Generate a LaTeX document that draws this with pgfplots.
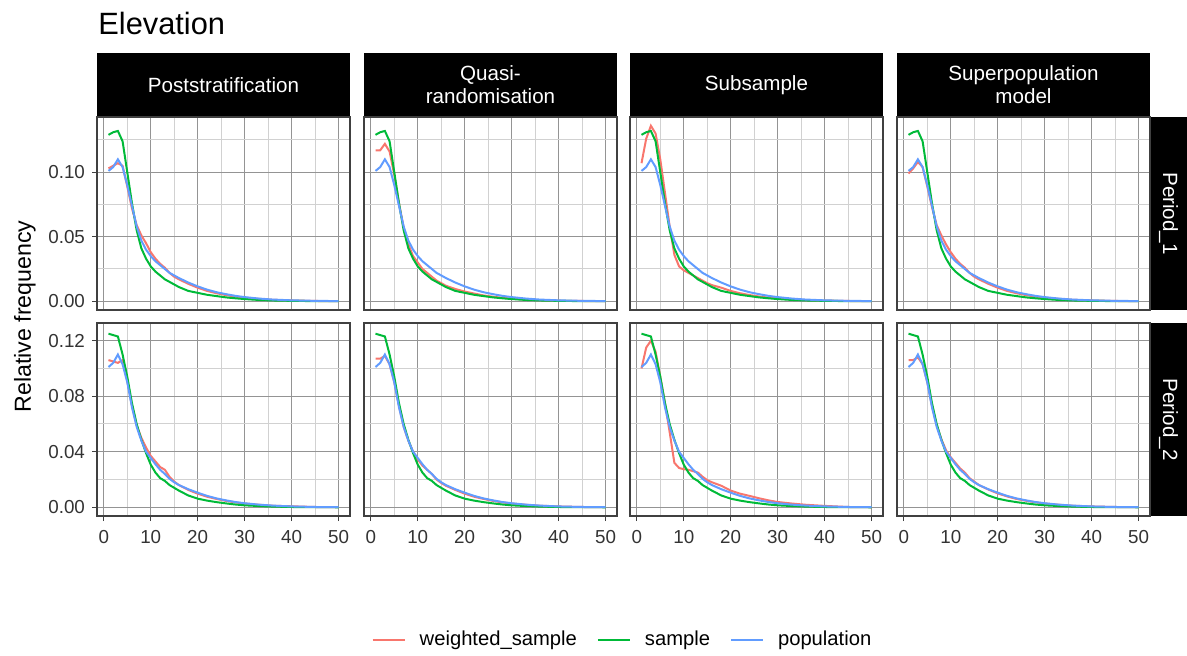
\documentclass[border=0pt]{standalone}
\usepackage{pgfplots}
\pgfplotsset{compat=1.18}
\usepackage{pgfplotstable}
\usepackage{fontspec}
\setmainfont{Liberation Sans}
\definecolor{cw}{HTML}{F8766D}
\definecolor{cs}{HTML}{00BA38}
\definecolor{cp}{HTML}{619CFF}

% Period_1: population, sample, and weighted_sample for each method
\pgfplotstableread{
x  pop     samp    ps      qr      ss      sp
1  0.101   0.129   0.103   0.117   0.107   0.099
2  0.104   0.131   0.105   0.117   0.126   0.103
3  0.110   0.132   0.107   0.122   0.136   0.108
4  0.104   0.124   0.105   0.116   0.130   0.104
5  0.090   0.100   0.089   0.098   0.110   0.089
6  0.074   0.076   0.072   0.076   0.084   0.073
7  0.058   0.055   0.059   0.057   0.058   0.059
8  0.047   0.041   0.051   0.044   0.036   0.051
9  0.040   0.033   0.045   0.035   0.027   0.044
10 0.035   0.027   0.038   0.030   0.024   0.038
11 0.031   0.023   0.033   0.025   0.022   0.033
12 0.028   0.020   0.029   0.022   0.020   0.029
13 0.025   0.017   0.026   0.019   0.018   0.026
14 0.022   0.015   0.022   0.016   0.016   0.022
15 0.020   0.013   0.019   0.014   0.014   0.019
16 0.018   0.011   0.017   0.012   0.0125  0.017
18 0.0145  0.008   0.0135  0.0095  0.0105  0.0135
20 0.0115  0.0065  0.0105  0.0075  0.008   0.0105
22 0.009   0.005   0.008   0.006   0.0062  0.008
24 0.007   0.004   0.0062  0.0045  0.0048  0.0062
26 0.0055  0.003   0.0048  0.0035  0.0037  0.0048
28 0.0042  0.0023  0.0036  0.0027  0.0028  0.0036
30 0.0032  0.0017  0.0027  0.002   0.0021  0.0027
33 0.0021  0.001   0.0018  0.0013  0.0014  0.0018
36 0.0013  0.0006  0.0011  0.0008  0.0009  0.0011
40 0.0007  0.0003  0.0006  0.0004  0.0005  0.0006
45 0.0003  0.0001  0.0002  0.0002  0.0002  0.0002
50 0.0001  0.0     0.0001  0.0     0.0     0.0001
}\tabA

% Period_2
\pgfplotstableread{
x  pop     samp    ps      qr      ss      sp
1  0.101   0.125   0.106   0.107   0.100   0.106
2  0.104   0.124   0.105   0.107   0.115   0.106
3  0.110   0.123   0.104   0.109   0.120   0.108
4  0.103   0.110   0.106   0.103   0.112   0.103
5  0.090   0.094   0.091   0.090   0.094   0.090
6  0.072   0.075   0.073   0.073   0.075   0.073
7  0.058   0.060   0.059   0.058   0.054   0.059
8  0.048   0.0486  0.050   0.048   0.032   0.049
9  0.040   0.039   0.043   0.040   0.0283  0.041
10 0.0355  0.0307  0.037   0.0345  0.0274  0.036
11 0.031   0.025   0.033   0.030   0.027   0.032
12 0.027   0.021   0.029   0.027   0.026   0.028
13 0.024   0.019   0.027   0.024   0.025   0.025
14 0.0205  0.016   0.022   0.020   0.022   0.021
15 0.018   0.014   0.0185  0.0175  0.0195  0.0185
16 0.016   0.012   0.016   0.0155  0.018   0.016
18 0.013   0.0085  0.0125  0.0125  0.0155  0.0128
20 0.0105  0.0062  0.0098  0.0098  0.012   0.010
22 0.0082  0.0048  0.0076  0.0076  0.0098  0.0078
24 0.0064  0.0037  0.006   0.006   0.0082  0.006
26 0.005   0.0028  0.0046  0.0046  0.0065  0.0047
28 0.0038  0.002   0.0035  0.0035  0.005   0.0036
30 0.0029  0.0014  0.0027  0.0027  0.0038  0.0027
33 0.0019  0.0009  0.0018  0.0018  0.0027  0.0018
36 0.0012  0.0005  0.0011  0.0011  0.0018  0.0011
40 0.0006  0.0002  0.0007  0.0006  0.001   0.0006
45 0.0002  0.0001  0.0002  0.0002  0.0002  0.0002
50 0.0001  0.0     0.0001  0.0001  0.0     0.0001
}\tabB

\pgfplotsset{
  panel/.style={
    scale only axis, width=126.5pt, height=96.5pt, anchor=north west,
    xmin=-1.45, xmax=52.45,
    xtick={0,10,20,30,40,50}, minor xtick={5,15,25,35,45},
    grid=both,
    major grid style={black!42, line width=0.5pt},
    minor grid style={black!18, line width=0.5pt},
    axis line style={black!75, line width=1pt},
    tick align=outside, major tick length=2.5pt, minor tick length=0pt,
    tick style={black!75, line width=0.5pt},
    xtick pos=left, ytick pos=left,
    ticklabel style={font=\fontsize{9.4}{10}\selectfont, text=black!80},
    xticklabel style={yshift=-1pt},
    /pgf/number format/assume math mode=true,
    every axis plot/.append style={line width=1pt, mark=none},
  },
  row1/.style={ymin=-0.0068, ymax=0.1428, ytick={0,0.05,0.1}, minor ytick={0.025,0.075,0.125}},
  row2/.style={ymin=-0.0063, ymax=0.1327, ytick={0,0.04,0.08,0.12}, minor ytick={0.02,0.06,0.1}},
  noxlab/.style={xticklabels={}, xtick style={draw=none}},
  noylab/.style={yticklabels={}, ytick style={draw=none}},
  ylab/.style={yticklabel style={/pgf/number format/.cd, fixed, fixed zerofill, precision=2}},
}

\begin{document}
\begin{tikzpicture}
\useasboundingbox (0,0) rectangle (593.5pt,-327.5pt);

% title
\node[anchor=base west, font=\fontsize{15.4}{18}\selectfont, inner sep=0] at (49pt,-17.2pt) {Elevation};

% strips
\foreach \xl/\lab in {48.5/{Poststratification}, 182/{Quasi-\\randomisation}, 315/{Subsample}, 448.5/{Superpopulation\\model}} {
  \fill[black] (\xl pt,-26.5pt) rectangle ++(126.5pt,-32pt);
  \node[text=white, align=center, font=\fontsize{10.3}{11.4}\selectfont] at ({\xl pt+63.25pt},-42.5pt) {\lab};
}
\fill[black] (575pt,-58.5pt) rectangle (593.5pt,-155pt);
\fill[black] (575pt,-161.5pt) rectangle (593.5pt,-258pt);
\node[text=white, rotate=-90, font=\fontsize{10.3}{12}\selectfont] at (584.25pt,-106.75pt) {Period\_1};
\node[text=white, rotate=-90, font=\fontsize{10.3}{12}\selectfont] at (584.25pt,-209.75pt) {Period\_2};

% y label
\node[rotate=90, font=\fontsize{11.6}{13}\selectfont] at (12.5pt,-158.25pt) {Relative frequency};

% Row 1
\begin{axis}[panel,row1,noxlab,ylab,at={(48.5pt,-58.5pt)}]
\addplot[cw] table[x=x,y=ps]{\tabA};
\addplot[cs] table[x=x,y=samp]{\tabA};
\addplot[cp] table[x=x,y=pop]{\tabA};
\end{axis}
\begin{axis}[panel,row1,noxlab,noylab,at={(182pt,-58.5pt)}]
\addplot[cw] table[x=x,y=qr]{\tabA};
\addplot[cs] table[x=x,y=samp]{\tabA};
\addplot[cp] table[x=x,y=pop]{\tabA};
\end{axis}
\begin{axis}[panel,row1,noxlab,noylab,at={(315pt,-58.5pt)}]
\addplot[cw] table[x=x,y=ss]{\tabA};
\addplot[cs] table[x=x,y=samp]{\tabA};
\addplot[cp] table[x=x,y=pop]{\tabA};
\end{axis}
\begin{axis}[panel,row1,noxlab,noylab,at={(448.5pt,-58.5pt)}]
\addplot[cw] table[x=x,y=sp]{\tabA};
\addplot[cs] table[x=x,y=samp]{\tabA};
\addplot[cp] table[x=x,y=pop]{\tabA};
\end{axis}

% Row 2
\begin{axis}[panel,row2,ylab,at={(48.5pt,-161.5pt)},
  legend columns=3,
  legend image code/.code={\draw[#1, line width=1pt] (0pt,0pt) -- (16pt,0pt);},
  legend style={at={(2.081,-0.6425)}, anchor=center, draw=none, fill=none,
    font=\fontsize{10.1}{12}\selectfont,
    /tikz/every odd column/.append style={column sep=5pt},
    /tikz/every even column/.append style={column sep=8pt}}]
\addplot[cw] table[x=x,y=ps]{\tabB};
\addlegendentry{weighted\_sample}
\addplot[cs] table[x=x,y=samp]{\tabB};
\addlegendentry{sample}
\addplot[cp] table[x=x,y=pop]{\tabB};
\addlegendentry{population}
\end{axis}
\begin{axis}[panel,row2,noylab,at={(182pt,-161.5pt)}]
\addplot[cw] table[x=x,y=qr]{\tabB};
\addplot[cs] table[x=x,y=samp]{\tabB};
\addplot[cp] table[x=x,y=pop]{\tabB};
\end{axis}
\begin{axis}[panel,row2,noylab,at={(315pt,-161.5pt)}]
\addplot[cw] table[x=x,y=ss]{\tabB};
\addplot[cs] table[x=x,y=samp]{\tabB};
\addplot[cp] table[x=x,y=pop]{\tabB};
\end{axis}
\begin{axis}[panel,row2,noylab,at={(448.5pt,-161.5pt)}]
\addplot[cw] table[x=x,y=sp]{\tabB};
\addplot[cs] table[x=x,y=samp]{\tabB};
\addplot[cp] table[x=x,y=pop]{\tabB};
\end{axis}
\end{tikzpicture}
\end{document}
